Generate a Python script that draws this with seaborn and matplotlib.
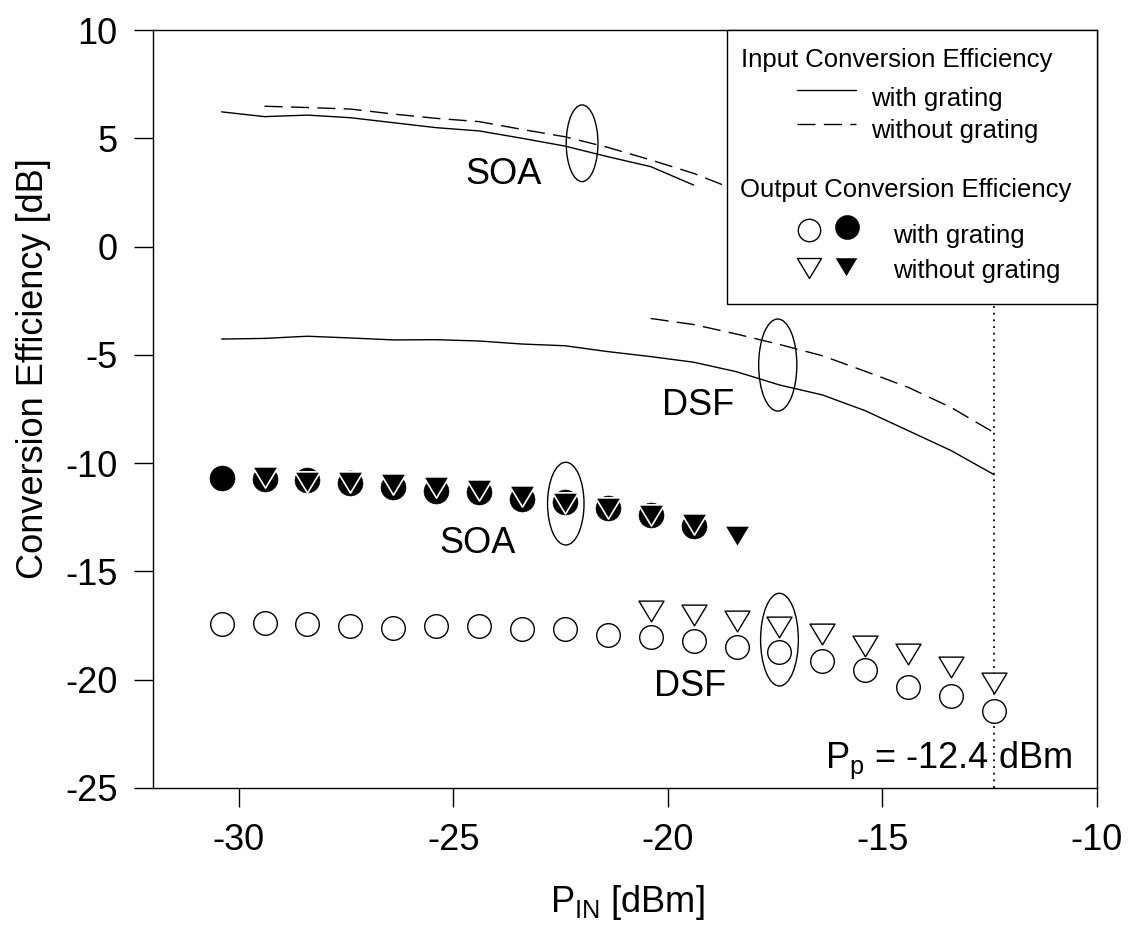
import matplotlib
matplotlib.use("Agg")
import matplotlib.pyplot as plt
from matplotlib.patches import Ellipse, Rectangle
from matplotlib.path import Path
import seaborn as sns

# ---- measured data -------------------------------------------------------
# Input signal power steps (dBm)
p_in_all = [-30.4, -29.4, -28.4, -27.4, -26.4, -25.4, -24.4, -23.4, -22.4, -21.4,
            -20.4, -19.4, -18.4, -17.4, -16.4, -15.4, -14.4, -13.4, -12.4]
p_in_soa_with = [-30.4, -29.4, -28.4, -27.4, -26.4, -25.4, -24.4, -23.4, -22.4,
                 -21.4, -20.4, -19.4]
p_in_soa_without = [-29.4, -28.4, -27.4, -26.4, -25.4, -24.4, -23.4, -22.4, -21.4,
                    -20.4, -19.4, -18.4]
p_in_dsf_without = [-20.4, -19.4, -18.4, -17.4, -16.4, -15.4, -14.4, -13.4, -12.4]

# Input conversion efficiency (dB), lines
soa_in_with = [6.22, 6.00, 6.07, 5.95, 5.72, 5.49, 5.34, 5.00, 4.64, 4.15, 3.69, 2.84]
soa_in_without = [6.48, 6.42, 6.35, 6.12, 5.92, 5.77, 5.41, 5.07, 4.58, 4.00, 3.38, 2.60]
dsf_in_with = [-4.27, -4.24, -4.14, -4.22, -4.31, -4.30, -4.36, -4.50, -4.58, -4.85,
               -5.08, -5.34, -5.78, -6.39, -6.85, -7.58, -8.50, -9.42, -10.53]
dsf_in_without = [-3.32, -3.60, -4.04, -4.52, -5.04, -5.76, -6.50, -7.43, -8.59]

# Output conversion efficiency (dB), markers
soa_out_with = [-10.67, -10.75, -10.79, -10.93, -11.12, -11.28, -11.33, -11.64, -11.79,
                -12.06, -12.39, -12.90]
soa_out_without = [-10.65, -10.85, -10.85, -10.95, -11.11, -11.26, -11.52, -11.83,
                   -12.08, -12.40, -12.83, -13.36]
dsf_out_with = [-17.44, -17.39, -17.45, -17.50, -17.59, -17.50, -17.50, -17.64, -17.67,
                -17.94, -18.04, -18.21, -18.47, -18.73, -19.14, -19.57, -20.34, -20.76,
                -21.45]
dsf_out_without = [-16.84, -17.02, -17.31, -17.57, -17.91, -18.46, -18.80, -19.41, -20.17]

pump_power = -12.4

x_ticks = [-30, -25, -20, -15, -10]
y_ticks = [-25, -20, -15, -10, -5, 0, 5, 10]

# ---- style ---------------------------------------------------------------
sns.set_theme(style="ticks")
plt.rcParams["font.family"] = ["Liberation Sans", "DejaVu Sans"]
plt.rcParams["mathtext.default"] = "regular"
plt.rcParams["axes.unicode_minus"] = False
for key in ["text.color", "axes.labelcolor", "xtick.color", "ytick.color",
            "axes.edgecolor", "xtick.labelcolor", "ytick.labelcolor"]:
    plt.rcParams[key] = "black"

FS = 26
LEG_FS = 18.5

fig = plt.figure(figsize=(11.28, 9.35), dpi=100)
ax = fig.add_axes([153 / 1128, 1 - 788 / 935, 944 / 1128, 758 / 935])
ax.set_facecolor("white")

# slightly flattened downward triangle
tri = Path([(0, -0.83), (-1, 0.83), (1, 0.83), (0, -0.83)],
           [Path.MOVETO, Path.LINETO, Path.LINETO, Path.CLOSEPOLY])

dash = (0, (13, 6))

# input conversion efficiency curves
sns.lineplot(x=p_in_soa_with, y=soa_in_with, ax=ax, color="black", lw=1.0,
             sort=False, estimator=None, zorder=2)
sns.lineplot(x=p_in_soa_without, y=soa_in_without, ax=ax, color="black", lw=1.0,
             linestyle=dash, sort=False, estimator=None, zorder=2)
sns.lineplot(x=p_in_all, y=dsf_in_with, ax=ax, color="black", lw=1.0,
             sort=False, estimator=None, zorder=2)
sns.lineplot(x=p_in_dsf_without, y=dsf_in_without, ax=ax, color="black", lw=1.0,
             linestyle=dash, sort=False, estimator=None, zorder=2)

# output conversion efficiency markers
sns.scatterplot(x=p_in_soa_with, y=soa_out_with, ax=ax, marker="o", s=324,
                color="black", edgecolor="black", linewidth=0.4, zorder=3)
sns.scatterplot(x=p_in_soa_without, y=soa_out_without, ax=ax, marker=tri, s=340,
                color="black", facecolor="black", edgecolor="white",
                linewidth=1.2, zorder=4)
sns.scatterplot(x=p_in_all, y=dsf_out_with, ax=ax, marker="o", s=289,
                color="black", facecolor="white", edgecolor="black",
                linewidth=1.0, zorder=3)
sns.scatterplot(x=p_in_dsf_without, y=dsf_out_without, ax=ax, marker=tri, s=324,
                color="black", facecolor="white", edgecolor="black",
                linewidth=1.0, zorder=4)

# pump power marker line
ax.axvline(pump_power, color="black", lw=1.2, linestyle=(0, (1.2, 2.8)), zorder=1)

# group ellipses and labels
for (cx, cy, w, h) in [(-22.0, 4.77, 0.74, 3.54), (-17.44, -5.47, 0.89, 4.25),
                       (-22.38, -11.87, 0.85, 3.82), (-17.40, -18.15, 0.88, 4.28)]:
    ax.add_patch(Ellipse((cx, cy), w, h, fill=False, edgecolor="black",
                         lw=1.0, zorder=5))

for (tx, ty, s) in [(-23.84, 3.31, "SOA"), (-19.30, -7.34, "DSF"),
                    (-24.44, -13.70, "SOA"), (-19.49, -20.33, "DSF")]:
    ax.text(tx, ty, s, fontsize=FS, ha="center", va="center", color="black",
            zorder=5)

ax.text(-16.33, -24.07, r"P$_\mathregular{p}$ = -12.4 dBm", fontsize=FS,
        ha="left", va="baseline", color="black", zorder=5)

# axes
ax.set_xlim(-32, -10)
ax.set_ylim(-25, 10)
ax.set_xticks(x_ticks)
ax.set_yticks(y_ticks)
ax.set_xticklabels([str(v) for v in x_ticks])
ax.set_yticklabels([str(v) for v in y_ticks])
ax.tick_params(axis="both", direction="out", length=13.5, width=1.0, pad=12,
               labelsize=FS, color="black", labelcolor="black",
               top=False, right=False)
for sp in ax.spines.values():
    sp.set_visible(True)
    sp.set_color("black")
    sp.set_linewidth(1.0)

ax.set_ylabel("Conversion Efficiency [dB]", fontsize=FS, color="black")
ax.set_xlabel(r"P$_\mathregular{IN}$ [dBm]", fontsize=FS, color="black")
ax.yaxis.set_label_coords(-0.108, 0.554)
ax.xaxis.set_label_coords(0.502, -0.125)

# legend panel
T = ax.transAxes
ax.add_patch(Rectangle((0.608, 0.6385), 0.392, 0.3615, transform=T,
                       facecolor="white", edgecolor="black", lw=1.0,
                       zorder=6, clip_on=False))
ax.text(0.6229, 0.9516, "Input Conversion Efficiency", transform=T,
        fontsize=LEG_FS, ha="left", va="baseline", color="black", zorder=7)
ax.plot([0.6822, 0.7447], [0.9208, 0.9208], transform=T, color="black",
        lw=1.0, zorder=7)
ax.text(0.7611, 0.8997, "with grating", transform=T, fontsize=LEG_FS,
        ha="left", va="baseline", color="black", zorder=7)
ax.plot([0.6822, 0.7447], [0.8760, 0.8760], transform=T, color="black",
        lw=1.0, linestyle=dash, zorder=7)
ax.text(0.7611, 0.8571, "without grating", transform=T, fontsize=LEG_FS,
        ha="left", va="baseline", color="black", zorder=7)

ax.text(0.6218, 0.7801, "Output Conversion Efficiency", transform=T,
        fontsize=LEG_FS, ha="left", va="baseline", color="black", zorder=7)
ax.scatter([0.6949], [0.7361], transform=T, marker="o", s=260,
           facecolor="white", edgecolor="black", linewidth=1.0, zorder=7)
ax.scatter([0.7356], [0.7405], transform=T, marker="o", s=300,
           facecolor="black", edgecolor="black", linewidth=0.4, zorder=7)
ax.text(0.7837, 0.7186, "with grating", transform=T, fontsize=LEG_FS,
        ha="left", va="baseline", color="black", zorder=7)
ax.scatter([0.6949], [0.6860], transform=T, marker=tri, s=300,
           facecolor="white", edgecolor="black", linewidth=1.0, zorder=7)
ax.scatter([0.7346], [0.6867], transform=T, marker=tri, s=300,
           facecolor="black", edgecolor="white", linewidth=1.0, zorder=7)
ax.text(0.7837, 0.6724, "without grating", transform=T, fontsize=LEG_FS,
        ha="left", va="baseline", color="black", zorder=7)

fig.savefig("out.png", dpi=100, facecolor="white")
